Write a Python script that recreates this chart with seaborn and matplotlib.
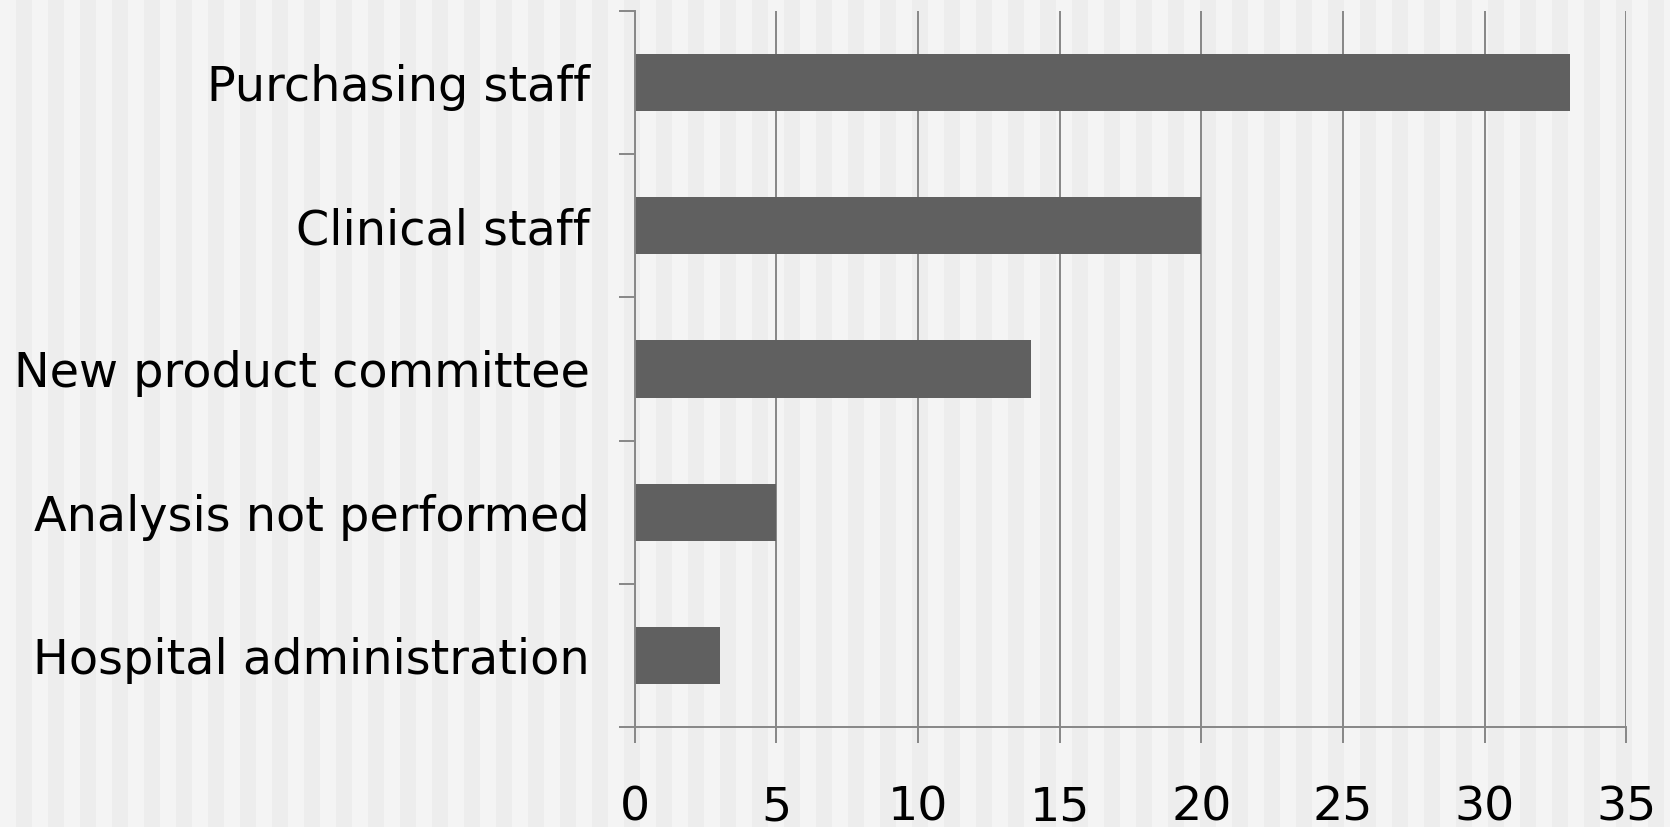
import numpy as np
import pandas as pd
import matplotlib
matplotlib.use("Agg")
import matplotlib.pyplot as plt
import seaborn as sns

categories = ["Purchasing staff", "Clinical staff", "New product committee",
              "Analysis not performed", "Hospital administration"]
counts = [33, 20, 14, 5, 3]
x_ticks = [0, 5, 10, 15, 20, 25, 30, 35]

df = pd.DataFrame({"category": categories, "count": counts})

sns.set_theme(style="white")
plt.rcParams["font.family"] = ["DejaVu Sans"]

W, H, DPI = 1670, 827, 100
fig = plt.figure(figsize=(W / DPI, H / DPI), dpi=DPI)
fig.patch.set_facecolor("#f4f4f4")

# striped backdrop across the whole figure
bg = fig.add_axes([0, 0, 1, 1], zorder=-1)
stripe_w = 16
starts = np.arange(stripe_w, W, 2 * stripe_w)
bg.bar(starts, np.ones_like(starts), width=stripe_w, align="edge",
       color="#ededed", linewidth=0)
bg.set_xlim(0, W)
bg.set_ylim(0, 1)
bg.axis("off")

ax = fig.add_axes([634.8 / W, 1 - 727.4 / H, (1626.5 - 634.8) / W, (727.4 - 10.6) / H])
ax.patch.set_alpha(0)

sns.barplot(data=df, x="count", y="category", orient="h", color="#606060",
            width=0.4, saturation=1, ax=ax, zorder=3, linewidth=0)

grid_c = "#878787"
ax.set_xlim(0, 35)
ax.set_ylim(4.5, -0.5)
ax.set_xticks(x_ticks)
ax.set_xticklabels([str(t) for t in x_ticks])
ax.grid(axis="x", color=grid_c, linewidth=1.4, zorder=1)
ax.set_axisbelow(True)
ax.set_xlabel("")
ax.set_ylabel("")

for s in ["top", "right"]:
    ax.spines[s].set_visible(False)
for s in ["left", "bottom"]:
    ax.spines[s].set_color(grid_c)
    ax.spines[s].set_linewidth(1.4)
    ax.spines[s].set_zorder(4)

ax.set_yticks(np.arange(-0.5, 5, 1), minor=True)
ax.tick_params(axis="y", which="major", length=0, pad=32.3, labelsize=34.4, labelcolor="black")
ax.tick_params(axis="y", which="minor", length=11.5, width=1.4, color=grid_c, direction="out", left=True)
ax.tick_params(axis="x", which="major", length=11.5, width=1.4, color=grid_c, direction="out",
               bottom=True, pad=30.3, labelsize=34.2, labelcolor="black")

fig.savefig("out.png", dpi=DPI)
